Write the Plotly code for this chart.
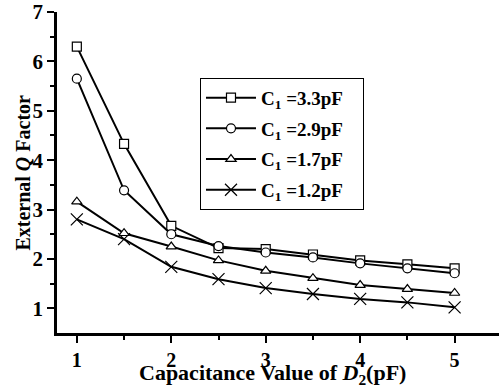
import plotly.graph_objects as go

x_vals = [1, 1.5, 2, 2.5, 3, 3.5, 4, 4.5, 5]
q_c33 = [6.30, 4.33, 2.67, 2.22, 2.20, 2.09, 1.97, 1.89, 1.81]
q_c29 = [5.65, 3.39, 2.50, 2.26, 2.13, 2.03, 1.91, 1.81, 1.71]
q_c17 = [3.16, 2.52, 2.25, 1.97, 1.76, 1.61, 1.47, 1.39, 1.31]
q_c12 = [2.80, 2.40, 1.84, 1.59, 1.41, 1.29, 1.19, 1.12, 1.02]
labels = ["C<sub>1</sub> =3.3pF", "C<sub>1</sub> =2.9pF",
          "C<sub>1</sub> =1.7pF", "C<sub>1</sub> =1.2pF"]
symbols = ["square", "circle", "triangle-up", "x-thin-open"]
series = [q_c33, q_c29, q_c17, q_c12]
x_ticks = [1, 2, 3, 4, 5]
y_ticks = [1, 2, 3, 4, 5, 6, 7]

FONT = "Liberation Serif"
fig = go.Figure()
for i, (ys, lab, sym) in enumerate(zip(series, labels, symbols)):
    fig.add_trace(go.Scatter(
        x=x_vals, y=ys, mode="lines+markers", name="<b>" + lab + "</b>\u00a0\u00a0\u00a0",
        legendgroup=str(i),
        line=dict(color="black", width=2),
        marker=dict(symbol=sym, size=9 if i < 3 else 12, color="white" if i < 3 else "black",
                    line=dict(color="black", width=1.2)),
    ))

fig.update_layout(
    width=499, height=387,
    margin=dict(l=57, r=0, t=12, b=54),
    paper_bgcolor="white", plot_bgcolor="white",
    font=dict(family=FONT, color="black", size=18),
    showlegend=True,
    legend=dict(x=0.3235, y=0.795, xanchor="left", yanchor="top",
                bordercolor="black", borderwidth=1, bgcolor="white",
                font=dict(family=FONT, size=19, color="black"),
                tracegroupgap=3, itemwidth=50),
    xaxis=dict(range=[0.79, 5.47], tickvals=x_ticks, ticktext=[f"<b>{v}</b>" for v in x_ticks],
               showgrid=False, zeroline=False,
               showline=True, linecolor="black", linewidth=2.5,
               ticks="outside", ticklen=7, tickwidth=2, tickcolor="black",
               minor=dict(tickvals=[1.5, 2.5, 3.5, 4.5], ticks="outside", ticklen=4, tickwidth=2, tickcolor="black"),
               tickfont=dict(family=FONT, size=20)),
    yaxis=dict(range=[0.5, 7], tickvals=y_ticks, ticktext=[f"<b>{v}</b>" for v in y_ticks],
               showgrid=False, zeroline=False,
               showline=True, linecolor="black", linewidth=2.5,
               ticks="outside", ticklen=7, tickwidth=2, tickcolor="black",
               minor=dict(tickvals=[1.5, 2.5, 3.5, 4.5, 5.5, 6.5], ticks="outside", ticklen=4, tickwidth=2, tickcolor="black"),
               tickfont=dict(family=FONT, size=21)),
    annotations=[
        dict(text="<b>Capacitance Value of <i>D</i></b><sub><b>2</b></sub><b>(pF)</b>",
             xref="paper", yref="paper", x=0.487, y=-0.128, xanchor="center", yanchor="middle",
             showarrow=False, font=dict(family=FONT, size=22, color="black")),
        dict(text="<b>External <i>Q</i> Factor</b>",
             xref="paper", yref="paper", x=-0.079, y=0.5, xanchor="center", yanchor="middle",
             textangle=-90, showarrow=False, font=dict(family=FONT, size=20, color="black")),
    ],
)
fig.write_html("out.html")
